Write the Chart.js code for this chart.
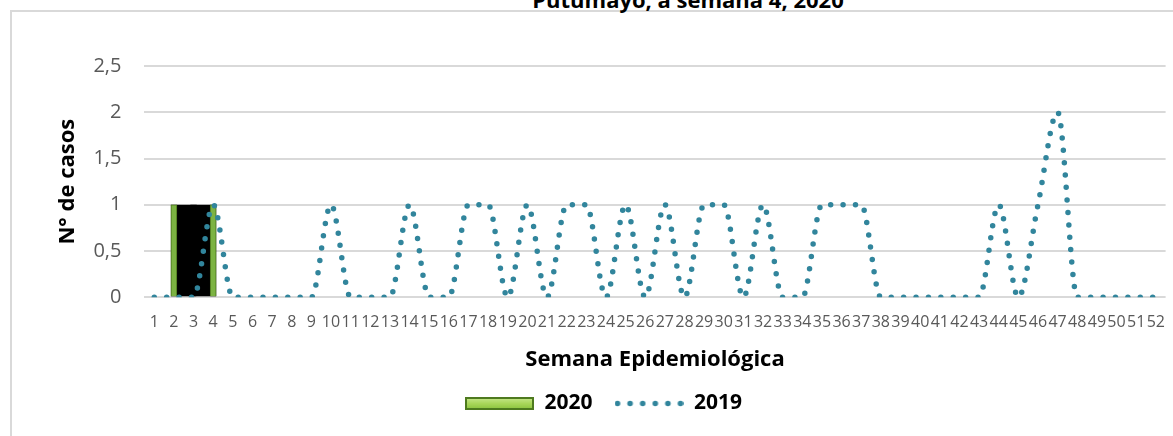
<!DOCTYPE html>
<html>
<head>
<meta charset="utf-8">
<script src="https://cdn.jsdelivr.net/npm/chart.js@4"></script>
<style>
  body { margin: 0; background: #fff; overflow: hidden; width: 1173px; height: 436px; position: relative; }
  #frame { position: absolute; left: 10px; top: 10px; width: 1300px; height: 600px;
           border-left: 2px solid #d9d9d9; border-top: 2px solid #d9d9d9; }
  #title { position: absolute; left: 0; top: -12px; width: 1376px; text-align: center; white-space: nowrap;
           font: bold 22px/22px 'Open Sans', sans-serif; color: #000; }
  #wrap { position: absolute; left: 0; top: 0; width: 1173px; height: 436px; }
</style>
</head>
<body>
<div id="frame"></div>
<div id="title">Putumayo, a semana 4, 2020</div>
<div id="wrap"><canvas id="casos-chart"></canvas></div>
<script>
'use strict';

const weeks = ['1', '2', '3', '4', '5', '6', '7', '8', '9', '10', '11', '12', '13', '14', '15', '16', '17', '18',
  '19', '20', '21', '22', '23', '24', '25', '26', '27', '28', '29', '30', '31', '32', '33', '34', '35', '36',
  '37', '38', '39', '40', '41', '42', '43', '44', '45', '46', '47', '48', '49', '50', '51', '52'];

// 2020 only reaches week 4
const cases2020 = [0, 1, 1, 1];

const cases2019 = [0, 0, 0, 1, 0, 0, 0, 0, 0, 1, 0, 0, 0, 1, 0, 0, 1, 1, 0, 1, 0, 1, 1, 0, 1, 0,
  1, 0, 1, 1, 0, 1, 0, 0, 1, 1, 1, 0, 0, 0, 0, 0, 0, 1, 0, 1, 2, 0, 0, 0, 0, 0];

const yTicks = [0, 0.5, 1, 1.5, 2, 2.5];

const green = '#7cb342';
const greenLight = '#a9d65a';
const greenDark = '#4e7a1f';
const teal = '#31859c';

// bars inside a run of cases are drawn black, only the edges stay green
function isInterior(i) {
  return cases2020[i] > 0 && cases2020[i - 1] > 0 && cases2020[i + 1] > 0;
}

// legend swatches
function barSwatch() {
  const c = document.createElement('canvas');
  c.width = 69;
  c.height = 13;
  const g = c.getContext('2d');
  g.fillStyle = greenDark;
  g.fillRect(0, 0, 69, 13);
  const grad = g.createLinearGradient(0, 1, 0, 12);
  grad.addColorStop(0, '#c5e68a');
  grad.addColorStop(0.5, greenLight);
  grad.addColorStop(1, '#8cc43f');
  g.fillStyle = grad;
  g.fillRect(2, 2, 65, 9);
  return c;
}

function dotSwatch() {
  const c = document.createElement('canvas');
  c.width = 69;
  c.height = 13;
  const g = c.getContext('2d');
  g.fillStyle = teal;
  for (let k = 0; k < 6; k++) {
    g.beginPath();
    g.arc(3 + k * 12.6, 6.5, 2.8, 0, Math.PI * 2);
    g.fill();
  }
  return c;
}

// black block behind the 2020 bars (as in the original picture)
const blockPlugin = {
  id: 'block2020',
  beforeDatasetsDraw(chart) {
    const meta = chart.getDatasetMeta(0);
    const bars = meta.data.filter((bar, i) => cases2020[i] > 0);
    if (!bars.length) return;
    const first = bars[0];
    const last = bars[bars.length - 1];
    const top = Math.min(...bars.map((b) => b.y));
    const left = first.x - first.width / 2;
    const ctx = chart.ctx;
    ctx.save();
    ctx.fillStyle = '#000';
    ctx.fillRect(left, top, last.x + last.width / 2 - left, first.base - top);
    ctx.restore();
  },
};

new Chart(document.getElementById('casos-chart'), {
  type: 'bar',
  data: {
    labels: weeks,
    datasets: [
      {
        label: '2020',
        data: cases2020,
        order: 1,
        backgroundColor: (ctx) => (isInterior(ctx.dataIndex) ? '#000' : green),
        borderColor: (ctx) => (isInterior(ctx.dataIndex) ? '#000' : greenDark),
        borderWidth: 1,
        barThickness: 6,
        pointStyle: barSwatch(),
      },
      {
        type: 'line',
        label: '2019',
        data: cases2019,
        order: 0,
        borderColor: teal,
        backgroundColor: teal,
        borderWidth: 5.5,
        borderDash: [0, 12.4],
        borderCapStyle: 'round',
        cubicInterpolationMode: 'monotone',
        pointRadius: 0,
        pointStyle: dotSwatch(),
        fill: false,
      },
    ],
  },
  options: {
    responsive: true,
    maintainAspectRatio: false,
    animation: false,
    layout: { padding: { left: 40, right: 6, top: 66, bottom: 12 } },
    scales: {
      x: {
        grid: { display: false },
        border: { display: false },
        ticks: {
          autoSkip: false,
          maxRotation: 0,
          color: '#595959',
          font: { family: 'Open Sans', size: 16 },
          padding: 8,
        },
        title: {
          display: true,
          text: 'Semana Epidemiológica',
          color: '#000',
          font: { family: 'Open Sans', size: 22, weight: 'bold', lineHeight: 1 },
          padding: { top: 8.5, bottom: 0 },
        },
      },
      y: {
        min: 0,
        max: 2.5,
        afterBuildTicks: (axis) => {
          axis.ticks = yTicks.map((v) => ({ value: v }));
        },
        grid: { color: '#d9d9d9', lineWidth: 2, drawTicks: true, tickLength: 20, tickColor: 'rgba(0,0,0,0)' },
        border: { display: false },
        ticks: {
          color: '#595959',
          font: { family: 'Open Sans', size: 20 },
          padding: 3,
          callback: (v) => String(v).replace('.', ','),
        },
        title: {
          display: true,
          text: 'N° de casos',
          color: '#000',
          font: { family: 'Open Sans', size: 22, weight: 'bold' },
          padding: { top: 15, bottom: 9 },
        },
      },
    },
    plugins: {
      legend: {
        display: true,
        position: 'bottom',
        labels: {
          usePointStyle: true,
          pointStyleWidth: 69,
          boxWidth: 69,
          boxHeight: 13,
          padding: 22,
          color: '#000',
          font: { family: 'Open Sans', size: 21, weight: 'bold' },
          sort: (a, b) => a.datasetIndex - b.datasetIndex,
        },
      },
      tooltip: { enabled: false },
    },
  },
  plugins: [blockPlugin],
});
</script>
</body>
</html>
